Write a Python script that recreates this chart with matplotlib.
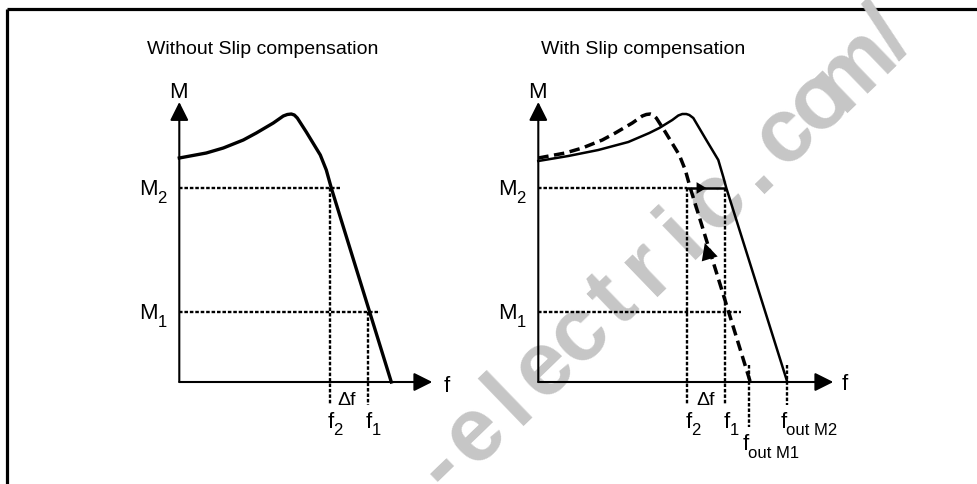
import numpy as np
import matplotlib
matplotlib.use("Agg")
import matplotlib.pyplot as plt

plt.rcParams["font.family"] = ["Liberation Sans", "DejaVu Sans"]

# torque curve without slip compensation (f rel. to origin, M up from f axis)
base_f = [0, 27, 44, 64, 77, 94, 104, 108, 112, 115, 118, 127, 141, 147, 152, 212]
base_M = [224, 229, 234, 242, 249, 259, 266, 267.5, 268, 267, 264, 250, 227, 212, 194, 0]

# torque curve with slip compensation (shifted right)
comp_f = [0, 30, 60, 90, 111, 121, 134, 140, 144, 148, 151, 155, 168, 180, 185, 188, 249]
comp_M = [221, 226, 232, 240, 249, 254, 262, 266.5, 268, 268, 267, 264, 242, 222, 205, 194, 0]

M_levels = {"M2": 194, "M1": 70}
f2, f1 = 151, 189
f_out_M1, f_out_M2 = 212, 249

titles = ["Without Slip compensation", "With Slip compensation"]
wm_text = "-electric.com/"

W, H = 978, 484
fig = plt.figure(figsize=(W / 100, H / 100), dpi=100)

bg = fig.add_axes([0, 0, 1, 1])
bg.set_xlim(0, W)
bg.set_ylim(H, 0)
bg.axis("off")
bg.plot([7, W], [9, 9], color="black", lw=2.3, solid_capstyle="butt")
bg.plot([7, 7], [9, H], color="black", lw=2.3, solid_capstyle="butt")

# watermark, evenly spaced letters along a slanted line
p0, p1 = np.array([440, 466]), np.array([888, 34])
ang = np.degrees(np.arctan2(p0[1] - p1[1], p1[0] - p0[0]))
fs_px = 90
normal = np.array([np.sin(np.radians(ang)), np.cos(np.radians(ang))])
for ch, t in zip(wm_text, np.linspace(0, 1, len(wm_text))):
    pos = p0 + t * (p1 - p0) + 0.28 * fs_px * normal
    bg.text(pos[0], pos[1], ch, rotation=ang, fontsize=fs_px * 0.72, fontweight="bold",
            color="#c6c6c6", ha="center", va="baseline", rotation_mode="anchor")

dot = dict(color="black", lw=1.7, linestyle=(0, (1.5, 0.8)))
x0, x1, y0, y1 = -60, 330, -95, 345


def panel(ox, oy):
    ax = fig.add_axes([(ox + x0) / W, (H - (oy - y0)) / H, (x1 - x0) / W, (y1 - y0) / H])
    ax.set_xlim(x0, x1)
    ax.set_ylim(y0, y1)
    ax.axis("off")
    ax.patch.set_visible(False)
    return ax


def axes_arrows(ax, xtip):
    head = dict(arrowstyle="-|>,head_length=0.4,head_width=0.2", mutation_scale=28,
                color="black", lw=1.5, shrinkA=0, shrinkB=0)
    ax.annotate("", xy=(0, 280), xytext=(0, 0), arrowprops=head)
    ax.annotate("", xy=(xtip, 0), xytext=(0, 0), arrowprops=head)
    ax.text(-1, 284, "M", fontsize=16, ha="center", va="baseline")


def m_labels(ax):
    ax.text(-40, M_levels["M2"] - 7, "M", fontsize=16, ha="left", va="baseline")
    ax.text(-22, M_levels["M2"] - 15, "2", fontsize=12, ha="left", va="baseline")
    ax.text(-40, M_levels["M1"] - 7, "M", fontsize=16, ha="left", va="baseline")
    ax.text(-22, M_levels["M1"] - 15, "1", fontsize=12, ha="left", va="baseline")


def f_label(ax, x, y, sub, dy=7):
    ax.text(x, y, "f", fontsize=16, ha="left", va="baseline")
    ax.text(x + 6, y - dy, sub, fontsize=12, ha="left", va="baseline")


# left panel
axl = panel(179.3, 382)
axes_arrows(axl, 253)
axl.text(-32, 328, titles[0], fontsize=14, ha="left", va="baseline")
axl.plot(base_f, base_M, color="black", lw=2.4, solid_joinstyle="round")
axl.plot([0, f2 + 10], [M_levels["M2"]] * 2, **dot)
axl.plot([0, f1 + 12], [M_levels["M1"]] * 2, **dot)
axl.plot([f2, f2], [M_levels["M2"], -23], **dot)
axl.plot([f1, f1], [M_levels["M1"], -23], **dot)
m_labels(axl)
axl.text(264, -10, "f", fontsize=16, ha="left", va="baseline")
axl.text(158, -23, "\u0394f", fontsize=14, ha="left", va="baseline")
f_label(axl, f2 - 3, -46, "2")
f_label(axl, f1 - 3, -46, "1")

# right panel
axr = panel(538.3, 382)
axes_arrows(axr, 295)
axr.text(3, 328, titles[1], fontsize=14, ha="left", va="baseline")
axr.plot(comp_f, comp_M, color="black", lw=1.8, solid_joinstyle="round")
axr.plot(base_f, base_M, color="black", lw=2.5, linestyle=(0, (3.0, 1.6)))
axr.plot([0, f2 - 2], [M_levels["M2"]] * 2, **dot)
axr.plot([f2 - 2, f1 - 2], [M_levels["M2"]] * 2, color="black", lw=1.8)
axr.annotate("", xy=(f2 + 17, M_levels["M2"]), xytext=(f2 - 2, M_levels["M2"]),
             arrowprops=dict(arrowstyle="-|>,head_length=0.5,head_width=0.3",
                             mutation_scale=14, color="black", lw=0, shrinkA=0, shrinkB=0))
axr.annotate("", xy=(166.5, 139), xytext=(173, 118),
             arrowprops=dict(arrowstyle="-|>,head_length=0.6,head_width=0.3",
                             mutation_scale=20, color="black", lw=0, shrinkA=0, shrinkB=0))
axr.plot([0, f1 + 14], [M_levels["M1"]] * 2, **dot)
axr.plot([f2 - 2, f2 - 2], [M_levels["M2"], -23], **dot)
axr.plot([f1 - 2, f1 - 2], [M_levels["M2"], -23], **dot)
axr.plot([f_out_M1 - 1, f_out_M1 - 1], [17, -45], **dot)
axr.plot([f_out_M2, f_out_M2], [17, -23], **dot)
m_labels(axr)
axr.text(303, -8, "f", fontsize=16, ha="left", va="baseline")
axr.text(158, -23, "\u0394f", fontsize=14, ha="left", va="baseline")
f_label(axr, f2 - 4, -46, "2")
f_label(axr, f1 - 4, -46, "1")
f_label(axr, f_out_M1 - 8, -68, "out M1", dy=8)
f_label(axr, f_out_M2 - 7, -46, "out M2", dy=7)

fig.savefig("out.png", dpi=100)
